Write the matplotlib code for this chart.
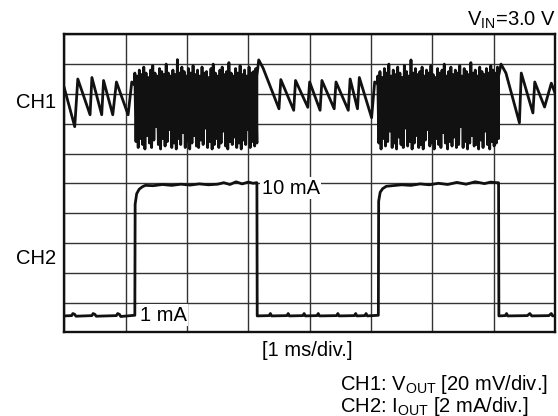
import numpy as np
import matplotlib
matplotlib.use("Agg")
import matplotlib.pyplot as plt

plt.rcParams['font.family'] = ['Liberation Sans', 'DejaVu Sans']
plt.rcParams['mathtext.fontset'] = 'custom'
plt.rcParams['mathtext.rm'] = 'Liberation Sans'
plt.rcParams['mathtext.it'] = 'Liberation Sans:italic'
plt.rcParams['mathtext.bf'] = 'Liberation Sans:bold'

# ---- data (time in divisions of 1 ms, amplitude in screen divisions) ----
# CH1: V_OUT, light-load sawtooth segments (time, level)
ch1_seg_a_t = [0.00, 0.17, 0.22, 0.42, 0.45, 0.61, 0.64, 0.79, 0.85, 1.04, 1.10, 1.15]
ch1_seg_a_v = [8.20, 6.90, 8.50, 7.30, 8.55, 7.30, 8.45, 7.30, 8.40, 7.30, 8.40, 8.30]

ch1_seg_b_t = [3.14, 3.17, 3.24, 3.50, 3.53, 3.74, 3.77, 3.97, 4.00, 4.17, 4.20,
               4.40, 4.43, 4.63, 4.66, 4.78, 4.81, 5.01, 5.06, 5.11]
ch1_seg_b_v = [8.60, 9.14, 8.87, 7.50, 8.48, 7.45, 8.45, 7.55, 8.40, 7.45, 8.45,
               7.50, 8.40, 7.45, 8.50, 7.50, 8.55, 7.20, 8.40, 8.35]

ch1_seg_c_t = [7.08, 7.12, 7.20, 7.42, 7.45, 7.64, 7.67, 7.83, 7.94, 8.00]
ch1_seg_c_v = [8.60, 9.00, 8.70, 7.03, 8.70, 7.36, 8.40, 7.56, 8.36, 8.03]

# CH1 heavy-load bursts: alternating peak / trough levels
burst1_span = [1.15, 3.14]
burst1_top = [8.70, 8.60, 8.80, 8.65, 8.90, 8.70, 8.55, 8.80, 8.95, 8.70, 8.60, 8.85,
              8.75, 8.65, 9.00, 8.70, 8.60, 8.80, 8.65, 9.15, 8.70, 8.90, 8.75, 8.60,
              8.85, 8.70, 8.95, 8.65, 8.80, 8.60, 8.90, 8.70, 8.75, 8.55, 8.85, 9.00,
              8.70, 8.60, 8.80, 8.90, 8.65, 8.75, 9.05, 8.70, 8.60, 8.85, 8.70, 8.95,
              8.65, 8.80, 8.60, 8.90, 8.70, 8.75, 8.85]
burst1_bot = [6.40, 6.20, 6.50, 6.30, 6.15, 6.60, 6.35, 6.20, 6.45, 6.90, 6.30, 6.15,
              6.50, 6.25, 6.40, 6.80, 6.20, 6.35, 6.15, 6.50, 6.30, 6.70, 6.20, 6.40,
              6.15, 6.35, 6.60, 6.25, 6.20, 6.45, 6.30, 6.85, 6.20, 6.40, 6.15, 6.30,
              6.50, 6.20, 6.35, 6.75, 6.25, 6.15, 6.40, 6.30, 6.55, 6.20, 6.35, 6.15,
              6.45, 6.30, 6.80, 6.20, 6.40, 6.25, 6.35]

burst2_span = [5.11, 7.08]
burst2_top = [8.60, 8.75, 8.55, 8.85, 8.70, 9.00, 8.60, 8.80, 8.65, 8.90, 8.70, 8.55,
              8.95, 8.75, 8.60, 9.14, 8.70, 8.85, 8.65, 8.75, 8.90, 8.60, 8.80, 8.70,
              8.95, 8.65, 8.55, 8.85, 8.70, 8.80, 9.00, 8.60, 8.75, 8.90, 8.65, 8.80,
              8.70, 8.95, 8.60, 8.85, 8.75, 8.65, 9.05, 8.70, 8.80, 8.60, 8.90, 8.75,
              8.65, 8.85, 8.70, 8.95, 8.80, 8.70, 8.90]
burst2_bot = [6.35, 6.15, 6.50, 6.25, 6.40, 6.75, 6.20, 6.35, 6.15, 6.55, 6.30, 6.20,
              6.85, 6.25, 6.40, 6.15, 6.35, 6.60, 6.20, 6.30, 6.15, 6.45, 6.80, 6.25,
              6.35, 6.15, 6.50, 6.30, 6.20, 6.70, 6.35, 6.15, 6.40, 6.25, 6.55, 6.20,
              6.30, 6.90, 6.20, 6.40, 6.15, 6.35, 6.60, 6.25, 6.30, 6.15, 6.45, 6.20,
              6.75, 6.30, 6.15, 6.40, 6.25, 6.35, 6.50]

# CH2: I_OUT (time, level)
ch2_t = [0.00, 0.12, 0.14, 0.17, 0.19, 0.45, 0.47, 0.50, 0.52, 0.85, 0.87, 0.90, 0.92,
         1.14, 1.150, 1.155, 1.18, 1.22, 1.27, 1.32, 1.45, 1.60, 1.75, 1.90, 2.05,
         2.20, 2.35, 2.50, 2.60, 2.70, 2.80, 2.90, 3.00, 3.08, 3.13,
         3.140, 3.145, 3.34, 3.36, 3.38, 3.63, 3.65, 3.67, 3.89, 3.91, 3.93, 4.12,
         4.14, 4.16, 4.44, 4.46, 4.48, 4.73, 4.75, 4.77, 4.90, 4.92, 4.94, 5.11,
         5.120, 5.125, 5.15, 5.19, 5.25, 5.35, 5.50, 5.65, 5.80, 5.95, 6.10, 6.25,
         6.40, 6.55, 6.70, 6.85, 6.95, 7.05, 7.075,
         7.080, 7.085, 7.19, 7.21, 7.23, 7.55, 7.59, 7.62, 7.90, 7.94, 7.96, 8.00]
ch2_v = [0.55, 0.56, 0.63, 0.60, 0.54, 0.56, 0.63, 0.60, 0.54, 0.56, 0.63, 0.60, 0.53,
         0.57, 0.57, 4.30, 4.65, 4.80, 4.88, 4.93, 4.92, 4.96, 4.93, 4.97, 4.94,
         4.98, 4.95, 4.97, 5.02, 4.96, 5.05, 4.98, 5.04, 5.00, 5.02,
         5.02, 0.55, 0.56, 0.63, 0.55, 0.56, 0.63, 0.55, 0.56, 0.63, 0.55, 0.56,
         0.63, 0.55, 0.56, 0.63, 0.55, 0.56, 0.63, 0.55, 0.56, 0.63, 0.55, 0.57,
         0.57, 4.40, 4.70, 4.82, 4.90, 4.92, 4.95, 4.93, 4.98, 4.95, 5.00, 4.96,
         5.03, 4.97, 5.05, 4.99, 5.04, 5.02, 5.02,
         5.02, 0.55, 0.56, 0.63, 0.55, 0.56, 0.63, 0.55, 0.56, 0.63, 0.55, 0.56]

n_div_x = 8
n_div_y = 10

# ---- figure ----
W, H = 558, 416
fig = plt.figure(figsize=(W / 100, H / 100), dpi=100)
x0, x1, y0, y1 = 64.3, 555.0, 34.3, 332.3
ax = fig.add_axes([x0 / W, 1 - y1 / H, (x1 - x0) / W, (y1 - y0) / H])
ax.set_xlim(0, n_div_x)
ax.set_ylim(0, n_div_y)
ax.set_xticks(np.arange(n_div_x + 1))
ax.set_yticks(np.arange(n_div_y + 1))
ax.tick_params(length=0, labelbottom=False, labelleft=False)
ax.grid(True, color='#333333', linewidth=1.0, zorder=1)
ax.set_axisbelow(True)
for s in ax.spines.values():
    s.set_linewidth(1.7)
    s.set_color('#111111')


def burst(span, top, bot):
    v = []
    for a, b in zip(top, bot):
        v += [a, b]
    t = np.linspace(span[0], span[1], len(v))
    return list(t), v


b1t, b1v = burst(burst1_span, burst1_top, burst1_bot)
b2t, b2v = burst(burst2_span, burst2_top, burst2_bot)
ch1_t = ch1_seg_a_t + b1t + ch1_seg_b_t + b2t + ch1_seg_c_t
ch1_v = ch1_seg_a_v + b1v + ch1_seg_b_v + b2v + ch1_seg_c_v

ax.plot(ch1_t, ch1_v, color='#111111', linewidth=2.0, zorder=4)
ax.plot(ch2_t, ch2_v, color='#111111', linewidth=2.0, zorder=4)

fs = 14.5
box = dict(facecolor='white', edgecolor='none', pad=1.0)
ax.text(3.22, 4.84, '10 mA', fontsize=fs, va='center', ha='left', bbox=box, zorder=3)
ax.text(1.23, 0.58, '1 mA', fontsize=fs, va='center', ha='left', bbox=box, zorder=3)


def ftext(x, y, s, **kw):
    fig.text(x / W, 1 - y / H, s, fontsize=fs, va='center', **kw)


ftext(56, 103, 'CH1', ha='right')
ftext(56, 258, 'CH2', ha='right')
ftext(556, 20, r'V$_\mathrm{IN}$=3.0 V', ha='right')
ftext(262, 350, '[1 ms/div.]', ha='left')
ftext(340, 385, r'CH1: V$_\mathrm{OUT}$ [20 mV/div.]', ha='left')
ftext(340, 406, r'CH2: I$_\mathrm{OUT}$ [2 mA/div.]', ha='left')

fig.savefig('out.png', dpi=100)
